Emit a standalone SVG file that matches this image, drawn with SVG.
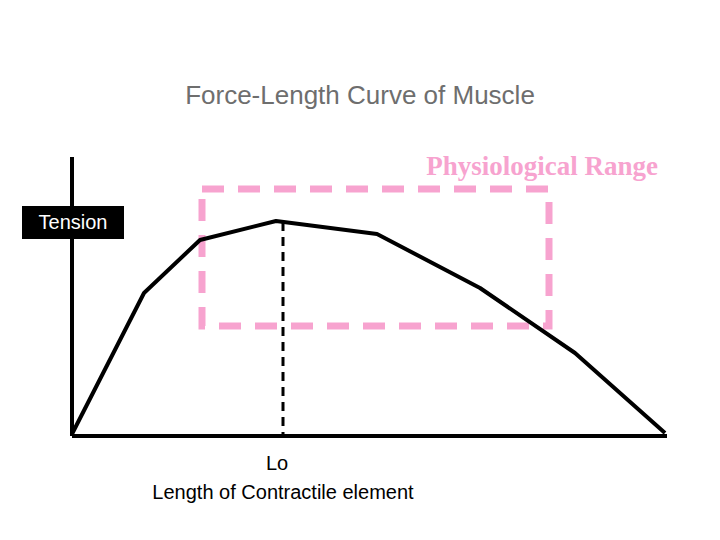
<svg xmlns="http://www.w3.org/2000/svg" width="720" height="540" viewBox="0 0 720 540">
<style>
.t{font-family:"Liberation Sans",Arial,sans-serif}
.ln{fill:none;stroke:#000;stroke-width:4;stroke-linejoin:round}
</style>
<rect width="720" height="540" fill="#fff"/>
<text class="t" x="360" y="104" font-size="26" fill="#6e6e6e" text-anchor="middle">Force-Length Curve of Muscle</text>
<g id="range">
<rect x="202" y="189" width="347" height="137" fill="none" stroke="#f7a3cf" stroke-width="7" stroke-dasharray="22,14"/>
<text x="658" y="175" font-family="'Liberation Serif',serif" font-weight="bold" font-size="27" fill="#f7a3cf" text-anchor="end">Physiological Range</text>
</g>
<g id="axes">
<line class="ln" x1="72" y1="157" x2="72" y2="436"/>
<line class="ln" x1="72" y1="436" x2="667" y2="436"/>
</g>
<g id="curve">
<polyline class="ln" points="72,434 144,293 200,240 276,221 377,234 480,288 575,353 665,433"/>
<line x1="283" y1="222" x2="283" y2="436" stroke="#000" stroke-width="3" stroke-dasharray="9,6"/>
</g>
<g id="tension">
<rect x="22" y="206" width="102" height="33" fill="#000"/>
<text class="t" x="73" y="229" font-size="20" fill="#fff" text-anchor="middle">Tension</text>
</g>
<g id="labels">
<text class="t" x="277" y="470" font-size="20" text-anchor="middle">Lo</text>
<text class="t" x="283" y="499" font-size="20" text-anchor="middle">Length of Contractile element</text>
</g>
</svg>
